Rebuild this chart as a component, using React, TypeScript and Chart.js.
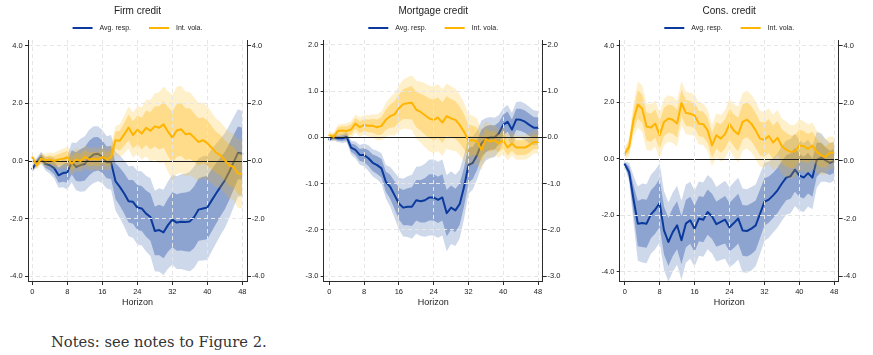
import React, { useEffect, useRef } from "react";
import { Chart, registerables } from "chart.js";

Chart.register(...registerables);

// ---------- data ----------
const horizons = [
  0, 1, 2, 3, 4, 5, 6, 7, 8, 9, 10, 11, 12, 13, 14, 15, 16, 17, 18, 19, 20, 21, 22, 23, 24,
  25, 26, 27, 28, 29, 30, 31, 32, 33, 34, 35, 36, 37, 38, 39, 40, 41, 42, 43, 44, 45, 46, 47, 48,
];
const xTickValues = [0, 8, 16, 24, 32, 40, 48];
const seriesNames = ["Avg. resp.", "Int. vola."];
const panelTitles = ["Firm credit", "Mortgage credit", "Cons. credit"];

// Firm credit
const firmAvg = [
  -0.27, -0.05, 0.12, -0.1, -0.15, -0.25, -0.5, -0.42, -0.4,
  -0.05, -0.2, -0.15, -0.1, 0.1, 0.22, 0.25, 0.15, -0.05, -0.05,
  -0.7, -0.9, -1.13, -1.4, -1.42, -1.62, -1.65, -1.83, -1.95, -2.43, -2.4, -2.48,
  -2.23, -2.04, -2.14, -2.11, -2.12, -2.1, -1.95, -1.69, -1.65, -1.62,
  -1.37, -1.13, -0.9, -0.68, -0.38, -0.05, 0.28, 0.25,
];
const firmAvgSe = [
  0.08, 0.1, 0.12, 0.14, 0.18, 0.22, 0.26, 0.3, 0.36,
  0.42, 0.5, 0.56, 0.58, 0.6, 0.6, 0.58, 0.56, 0.55, 0.58,
  0.62, 0.66, 0.7, 0.74, 0.76, 0.78, 0.78, 0.8, 0.82, 0.85, 0.88, 0.9,
  0.92, 0.95, 0.98, 1.0, 1.02, 1.05, 1.07, 1.08, 1.1, 1.1,
  1.08, 1.05, 1.02, 1.0, 0.98, 0.95, 0.92, 0.9,
];
const firmVola = [
  0.12, -0.15, 0.08, 0.02, 0.05, 0.0, 0.05, 0.08, 0.12,
  -0.1, 0.05, 0.0, 0.14, 0.05, 0.08, 0.05, 0.14, 0.05, 0.14,
  0.72, 0.7, 0.92, 1.16, 0.9, 1.08, 0.95, 1.15, 1.05, 1.2, 1.15, 1.27,
  1.02, 0.81, 1.06, 1.1, 0.93, 0.95, 0.81, 0.66, 0.72, 0.62,
  0.46, 0.29, 0.2, 0.02, -0.15, -0.21, -0.44, -0.46,
];
const firmVolaSe = [
  0.08, 0.1, 0.12, 0.14, 0.15, 0.17, 0.19, 0.21, 0.23,
  0.24, 0.24, 0.24, 0.24, 0.24, 0.24, 0.24, 0.24, 0.24, 0.26,
  0.3, 0.35, 0.4, 0.45, 0.48, 0.5, 0.55, 0.6, 0.65, 0.7, 0.75, 0.8,
  0.85, 0.9, 0.92, 0.92, 0.9, 0.88, 0.85, 0.82, 0.8, 0.78,
  0.75, 0.72, 0.7, 0.7, 0.7, 0.7, 0.72, 0.72,
];

// Mortgage credit
const mortAvg = [
  -0.04, 0.0, -0.02, -0.02, 0.01, -0.22, -0.27, -0.38, -0.38,
  -0.45, -0.55, -0.6, -0.67, -0.96, -1.07, -1.25, -1.43, -1.52, -1.5,
  -1.5, -1.36, -1.38, -1.36, -1.3, -1.3, -1.35, -1.3, -1.64, -1.52, -1.58, -1.44,
  -1.07, -0.6, -0.55, -0.38, -0.13, -0.04, 0.0, 0.0, 0.09, 0.27,
  0.34, 0.17, 0.39, 0.38, 0.34, 0.27, 0.21, 0.21,
];
const mortAvgSe = [
  0.03, 0.04, 0.05, 0.06, 0.07, 0.09, 0.11, 0.13, 0.15,
  0.17, 0.18, 0.19, 0.2, 0.22, 0.26, 0.3, 0.34, 0.38, 0.4,
  0.42, 0.44, 0.46, 0.48, 0.5, 0.5, 0.5, 0.5, 0.5, 0.48, 0.47, 0.45,
  0.42, 0.38, 0.35, 0.32, 0.3, 0.28, 0.27, 0.26, 0.24, 0.22,
  0.22, 0.22, 0.23, 0.24, 0.24, 0.24, 0.23, 0.22,
];
const mortVola = [
  0.05, 0.01, 0.14, 0.15, 0.14, 0.17, 0.3, 0.22, 0.27,
  0.25, 0.25, 0.22, 0.25, 0.38, 0.46, 0.5, 0.63, 0.72, 0.74,
  0.75, 0.6, 0.55, 0.48, 0.41, 0.38, 0.43, 0.32, 0.46, 0.41, 0.38, 0.27,
  0.12, -0.07, -0.06, -0.09, -0.27, -0.04, -0.09, -0.06, -0.13, -0.06,
  -0.22, -0.13, -0.22, -0.22, -0.22, -0.17, -0.1, -0.1,
];
const mortVolaSe = [
  0.04, 0.06, 0.08, 0.09, 0.1, 0.11, 0.12, 0.13, 0.13,
  0.14, 0.15, 0.17, 0.19, 0.22, 0.25, 0.28, 0.3, 0.32, 0.34,
  0.36, 0.38, 0.4, 0.42, 0.43, 0.44, 0.44, 0.44, 0.43, 0.42, 0.41, 0.4,
  0.38, 0.35, 0.32, 0.3, 0.27, 0.24, 0.22, 0.2, 0.19, 0.18,
  0.17, 0.16, 0.16, 0.16, 0.16, 0.16, 0.15, 0.15,
];

// Cons. credit
const consAvg = [
  -0.2, -0.47, -1.42, -2.3, -2.28, -2.3, -1.97, -1.8, -1.57,
  -2.54, -2.95, -2.6, -2.36, -2.89, -2.3, -2.18, -2.48, -2.12, -2.16,
  -1.89, -2.04, -2.32, -2.24, -2.16, -2.43, -2.28, -2.12, -2.54, -2.56, -2.48, -2.36,
  -1.95, -1.53, -1.45, -1.3, -1.12, -0.88, -0.67, -0.62, -0.39, -0.59,
  -0.67, -0.51, -0.67, -0.04, 0.04, -0.06, -0.15, -0.08,
];
const consAvgSe = [
  0.06, 0.2, 0.5, 0.8, 0.85, 0.85, 0.85, 0.85, 0.85,
  0.85, 0.85, 0.85, 0.85, 0.85, 0.84, 0.83, 0.82, 0.8, 0.8,
  0.8, 0.8, 0.8, 0.82, 0.84, 0.86, 0.88, 0.88, 0.9, 0.9, 0.9, 0.88,
  0.86, 0.84, 0.82, 0.8, 0.8, 0.8, 0.8, 0.8, 0.78, 0.76,
  0.74, 0.72, 0.68, 0.6, 0.52, 0.46, 0.43, 0.42,
];
const consVola = [
  0.18, 0.41, 1.36, 1.92, 1.77, 1.14, 1.1, 1.24, 0.83,
  1.3, 1.42, 1.38, 1.24, 1.97, 1.62, 1.59, 1.53, 1.24, 1.22,
  1.0, 0.47, 0.83, 0.71, 0.88, 1.22, 1.0, 0.86, 1.3, 1.38, 1.24, 1.0,
  0.71, 0.67, 0.8, 0.57, 0.74, 0.44, 0.32, 0.24, 0.26, 0.47,
  0.44, 0.35, 0.46, 0.24, 0.12, 0.06, 0.21, 0.21,
];
const consVolaSe = [
  0.12, 0.2, 0.35, 0.5, 0.5, 0.5, 0.5, 0.5, 0.5,
  0.5, 0.5, 0.5, 0.5, 0.48, 0.46, 0.45, 0.45, 0.45, 0.45,
  0.45, 0.45, 0.47, 0.5, 0.52, 0.55, 0.57, 0.6, 0.62, 0.62, 0.62, 0.62,
  0.6, 0.6, 0.6, 0.6, 0.6, 0.6, 0.6, 0.58, 0.57, 0.56,
  0.54, 0.52, 0.5, 0.46, 0.42, 0.38, 0.35, 0.34,
];

const firmYTicks = [-4, -2, 0, 2, 4];
const mortYTicks = [-3, -2, -1, 0, 1, 2];
const consYTicks = [-4, -2, 0, 2, 4];

// confidence band multipliers (68% and 90%)
const INNER_Z = 1.0;
const OUTER_Z = 1.645;

// ---------- styling ----------
const FONT = '"Liberation Sans", Arial, Helvetica, sans-serif';
const BLUE = "#0b3a9c";
const YELLOW = "#ffb400";
const BLUE_OUT = "rgba(11,58,156,0.2)";
const BLUE_IN = "rgba(11,58,156,0.33)";
const YEL_OUT = "rgba(255,180,0,0.2)";
const YEL_IN = "rgba(255,180,0,0.33)";
const GRID = "#e6e6e6";
const AXIS = "#2b2b2b";
const TEXT = "#222222";

type PanelSpec = {
  title: string;
  avg: number[];
  avgSe: number[];
  vola: number[];
  volaSe: number[];
  yTicks: number[];
  left: number;
  leftW: number;
  xMin: number;
  xMax: number;
  yMin: number;
  yMax: number;
  y2Min: number;
  y2Max: number;
};

const CANVAS_W = 275;
const CANVAS_H = 310;
const AREA_W = 219;

const pts = (vals: number[]) => horizons.map((h, i) => ({ x: h, y: vals[i] }));
const bandVals = (mean: number[], se: number[], z: number) => mean.map((m, i) => m + z * se[i]);

function Panel({ spec }: { spec: PanelSpec }) {
  const ref = useRef<HTMLCanvasElement | null>(null);

  useEffect(() => {
    if (!ref.current) return;
    const line = (label: string, vals: number[], color: string) => ({
      label,
      data: pts(vals),
      borderColor: color,
      backgroundColor: color,
      borderWidth: 2,
      pointRadius: 0,
      fill: false,
      tension: 0,
    });
    const band = (vals: number[], color: string, fill: any) => ({
      label: "",
      data: pts(vals),
      borderWidth: 0,
      borderColor: "rgba(0,0,0,0)",
      backgroundColor: color,
      pointRadius: 0,
      fill,
      tension: 0,
    });

    // dataset 0 is drawn last (on top)
    const datasets: any[] = [
      line(seriesNames[1], spec.vola, YELLOW),
      band(bandVals(spec.vola, spec.volaSe, INNER_Z), YEL_IN, "+1"),
      band(bandVals(spec.vola, spec.volaSe, -INNER_Z), YEL_IN, false),
      band(bandVals(spec.vola, spec.volaSe, OUTER_Z), YEL_OUT, "+1"),
      band(bandVals(spec.vola, spec.volaSe, -OUTER_Z), YEL_OUT, false),
      line(seriesNames[0], spec.avg, BLUE),
      band(bandVals(spec.avg, spec.avgSe, INNER_Z), BLUE_IN, "+1"),
      band(bandVals(spec.avg, spec.avgSe, -INNER_Z), BLUE_IN, false),
      band(bandVals(spec.avg, spec.avgSe, OUTER_Z), BLUE_OUT, "+1"),
      band(bandVals(spec.avg, spec.avgSe, -OUTER_Z), BLUE_OUT, false),
    ];

    const headerPlugin = {
      id: "header",
      afterDraw(chart: any) {
        const { ctx, chartArea } = chart;
        const cx = (chartArea.left + chartArea.right) / 2;
        ctx.save();
        ctx.fillStyle = TEXT;
        ctx.font = `10px ${FONT}`;
        ctx.textAlign = "center";
        ctx.textBaseline = "middle";
        ctx.fillText(spec.title, cx, 11);
        ctx.font = `7px ${FONT}`;
        const items = [
          { label: seriesNames[0], color: BLUE },
          { label: seriesNames[1], color: YELLOW },
        ];
        const lineLen = 20;
        const gap = 7;
        const between = 18;
        const widths = items.map((it) => lineLen + gap + ctx.measureText(it.label).width);
        const total = widths[0] + between + widths[1];
        let x = cx - total / 2;
        const ly = 28;
        items.forEach((it, i) => {
          ctx.strokeStyle = it.color;
          ctx.lineWidth = 2;
          ctx.beginPath();
          ctx.moveTo(x, ly);
          ctx.lineTo(x + lineLen, ly);
          ctx.stroke();
          ctx.fillStyle = TEXT;
          ctx.textAlign = "left";
          ctx.fillText(it.label, x + lineLen + gap, ly);
          x += widths[i] + between;
        });
        ctx.restore();
      },
    };

    const zeroPlugin = {
      id: "zeroLine",
      beforeDatasetDraw(chart: any, args: any) {
        if (args.index !== 0) return;
        const { ctx, chartArea, scales } = chart;
        const y = Math.round(scales.y.getPixelForValue(0)) + 0.5;
        ctx.save();
        ctx.strokeStyle = "#1e1e1e";
        ctx.lineWidth = 1;
        ctx.beginPath();
        ctx.moveTo(chartArea.left, y);
        ctx.lineTo(chartArea.right, y);
        ctx.stroke();
        ctx.restore();
      },
    };

    const tickFont = { family: FONT, size: 7.5 };
    const rightW = CANVAS_W - spec.leftW - AREA_W;

    const chart = new Chart(ref.current, {
      type: "line",
      data: { datasets },
      plugins: [zeroPlugin, headerPlugin],
      options: {
        animation: false,
        responsive: false,
        devicePixelRatio: 1,
        layout: { padding: { top: 40, left: 0, right: 0, bottom: 0 } },
        plugins: {
          legend: { display: false },
          title: { display: false },
          tooltip: { enabled: false },
        },
        elements: { line: { borderCapStyle: "round", borderJoinStyle: "round" } },
        scales: {
          x: {
            type: "linear",
            min: spec.xMin,
            max: spec.xMax,
            afterBuildTicks: (s: any) => {
              s.ticks = xTickValues.map((v) => ({ value: v }));
            },
            afterFit: (s: any) => {
              s.height = 29;
            },
            grid: {
              color: GRID,
              lineWidth: 1,
              drawTicks: true,
              tickLength: 4,
              tickColor: AXIS,
              tickWidth: 1,
              z: 1,
            },
            border: { display: true, color: AXIS, width: 1, dash: [4, 3], z: 2 },
            ticks: {
              font: tickFont,
              color: TEXT,
              padding: 2.5,
              autoSkip: false,
              maxRotation: 0,
              callback: (v: any) => String(v),
            },
            title: {
              display: true,
              text: "Horizon",
              color: TEXT,
              font: { family: FONT, size: 9 },
              padding: { top: 0, bottom: 1.6 },
            },
          },
          y: {
            type: "linear",
            position: "left",
            min: spec.yMin,
            max: spec.yMax,
            afterBuildTicks: (s: any) => {
              s.ticks = spec.yTicks.map((v) => ({ value: v }));
            },
            afterFit: (s: any) => {
              s.width = spec.leftW;
            },
            grid: {
              color: (c: any) => (c.tick && c.tick.value === 0 ? "rgba(0,0,0,0)" : GRID),
              lineWidth: 1,
              drawTicks: true,
              tickLength: 3,
              tickColor: AXIS,
              tickWidth: 1,
              z: 1,
            },
            border: { display: true, color: AXIS, width: 1, dash: [4, 3], z: 2 },
            ticks: {
              font: tickFont,
              color: TEXT,
              padding: 2.3,
              callback: (v: any) => Number(v).toFixed(1),
            },
          },
          y2: {
            type: "linear",
            position: "right",
            min: spec.y2Min,
            max: spec.y2Max,
            afterBuildTicks: (s: any) => {
              s.ticks = spec.yTicks.map((v) => ({ value: v }));
            },
            afterFit: (s: any) => {
              s.width = rightW;
            },
            grid: {
              drawOnChartArea: false,
              drawTicks: true,
              tickLength: 4,
              tickColor: AXIS,
              tickWidth: 1,
              z: 1,
            },
            border: { display: true, color: AXIS, width: 1, z: 2 },
            ticks: {
              font: tickFont,
              color: TEXT,
              padding: 0.8,
              callback: (v: any) => Number(v).toFixed(1),
            },
          },
        },
      } as any,
    });
    return () => chart.destroy();
  }, [spec]);

  return (
    <canvas
      ref={ref}
      width={CANVAS_W}
      height={CANVAS_H}
      style={{
        position: "absolute",
        left: spec.left,
        top: 0,
        width: CANVAS_W,
        height: CANVAS_H,
      }}
    />
  );
}

const panels: PanelSpec[] = [
  {
    title: panelTitles[0],
    avg: firmAvg,
    avgSe: firmAvgSe,
    vola: firmVola,
    volaSe: firmVolaSe,
    yTicks: firmYTicks,
    left: 0,
    leftW: 28,
    xMin: -0.99,
    xMax: 49.07,
    yMin: -4.17,
    yMax: 4.2,
    y2Min: -4.17,
    y2Max: 4.2,
  },
  {
    title: panelTitles[1],
    avg: mortAvg,
    avgSe: mortAvgSe,
    vola: mortVola,
    volaSe: mortVolaSe,
    yTicks: mortYTicks,
    left: 296,
    leftW: 27.7,
    xMin: -1.29,
    xMax: 49.08,
    yMin: -3.108,
    yMax: 2.108,
    y2Min: -3.108,
    y2Max: 2.108,
  },
  {
    title: panelTitles[2],
    avg: consAvg,
    avgSe: consAvgSe,
    vola: consVola,
    volaSe: consVolaSe,
    yTicks: consYTicks,
    left: 592,
    leftW: 27.7,
    xMin: -1.15,
    xMax: 49.02,
    yMin: -4.33,
    yMax: 4.2,
    y2Min: -4.17,
    y2Max: 4.2,
  },
];

export default function App() {
  return (
    <div
      style={{
        position: "absolute",
        left: 0,
        top: 0,
        width: 873,
        height: 355,
        background: "#ffffff",
        overflow: "hidden",
      }}
    >
      {panels.map((p) => (
        <Panel key={p.title} spec={p} />
      ))}
      <div
        style={{
          position: "absolute",
          left: 51,
          top: 335,
          fontFamily: '"DejaVu Serif", "Liberation Serif", serif',
          fontSize: 14.7,
          lineHeight: 1,
          color: "#333333",
          whiteSpace: "nowrap",
        }}
      >
        Notes: see notes to Figure 2.
      </div>
    </div>
  );
}
